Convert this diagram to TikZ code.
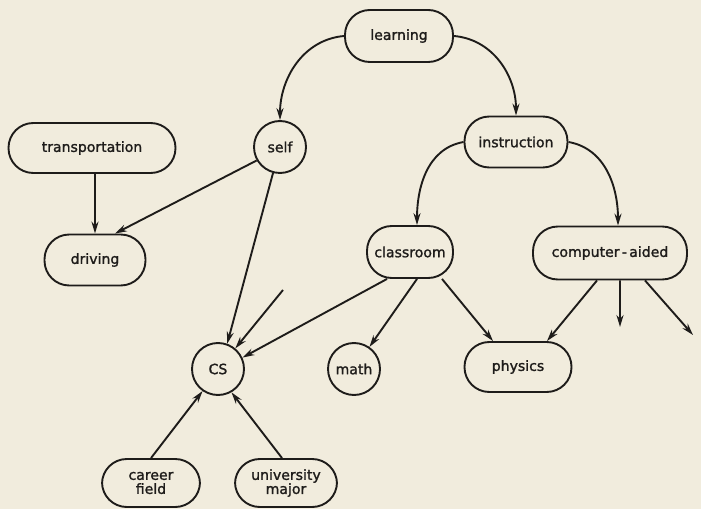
\documentclass[tikz,border=0pt]{standalone}
\usepackage{fontspec}
\setmainfont[FakeBold=1.4]{DejaVu Sans}
\usetikzlibrary{arrows.meta}
\definecolor{paper}{RGB}{241,236,221}
\definecolor{ink}{RGB}{30,28,26}

\begin{document}
\begin{tikzpicture}[>={Stealth[length=8.5pt,width=5pt]},line width=1.35pt,draw=ink,
  pill/.style={draw=ink,rounded corners=0.62cm,inner sep=0pt,align=center,text=ink},
  circ/.style={draw=ink,circle,minimum size=1.3cm,inner sep=0pt,text=ink},
  every node/.style={font=\fontsize{10}{11}\selectfont}]
\fill[paper] (0,0) rectangle (17.525,12.725);
\useasboundingbox (0,0) rectangle (17.525,12.725);

\node[pill,minimum width=2.7cm,minimum height=1.3cm]   (learn) at (9.975,11.825) {learning};
\node[circ] (self) at (7.0,9.05) {self};
\node[pill,minimum width=2.575cm,minimum height=1.275cm] (instr) at (12.9,9.175) {instruction};
\node[pill,minimum width=4.175cm,minimum height=1.25cm] (trans) at (2.3,9.025) {transportation};
\node[pill,minimum width=2.525cm,minimum height=1.275cm] (drive) at (2.375,6.225) {driving};
\node[pill,minimum width=2.15cm,minimum height=1.3cm]  (class) at (10.25,6.425) {classroom};
\node[pill,minimum width=3.85cm,minimum height=1.325cm] (comp) at (15.25,6.4) {computer\,-\,aided};
\node[circ] (math) at (8.85,3.5) {math};
\node[circ] (cs)   at (5.45,3.5) {CS};
\node[pill,minimum width=2.675cm,minimum height=1.25cm] (phys) at (12.95,3.55) {physics};
\node[pill,minimum width=2.45cm,minimum height=1.2cm]  (career) at (3.775,0.65) {career\\[-1pt]field};
\node[pill,minimum width=2.55cm,minimum height=1.2cm]  (univ) at (7.15,0.65) {university\\[-1pt]major};

\coordinate (loose)  at (7.075,5.475);
\coordinate (down)   at (15.5,4.55);
\coordinate (slant)  at (17.325,4.35);

\draw[->] (learn.west) to[out=185,in=90] (self.north);
\draw[->] (learn.east) to[out=-5,in=90] (instr.north);
\draw[->] (instr.west) to[out=190,in=90] ([xshift=0.175cm]class.north);
\draw[->] (instr.east) to[out=-10,in=90] ([xshift=0.2cm]comp.north);

\draw[->] (trans.south -| drive.north) -- (drive.north);
\draw[->] (self.210) -- ([xshift=0.5cm]drive.north);
\draw[->] (self.255) -- (cs.70);
\draw[->] (loose) -- (cs.50);
\draw[->] ([xshift=-0.575cm]class.south) -- (cs.25);
\draw[->] ([xshift=0.175cm]class.south) -- (math.55);
\draw[->] ([xshift=0.8cm]class.south) -- ([xshift=-0.625cm]phys.north);
\draw[->] ([xshift=-0.325cm]comp.south) -- ([xshift=0.725cm]phys.north);
\draw[->] ([xshift=0.25cm]comp.south) -- (down);
\draw[->] ([xshift=0.875cm]comp.south) -- (slant);
\draw[->] (career.north) -- (cs.235);
\draw[->] ([xshift=-0.1cm]univ.north) -- (cs.300);
\end{tikzpicture}
\end{document}
